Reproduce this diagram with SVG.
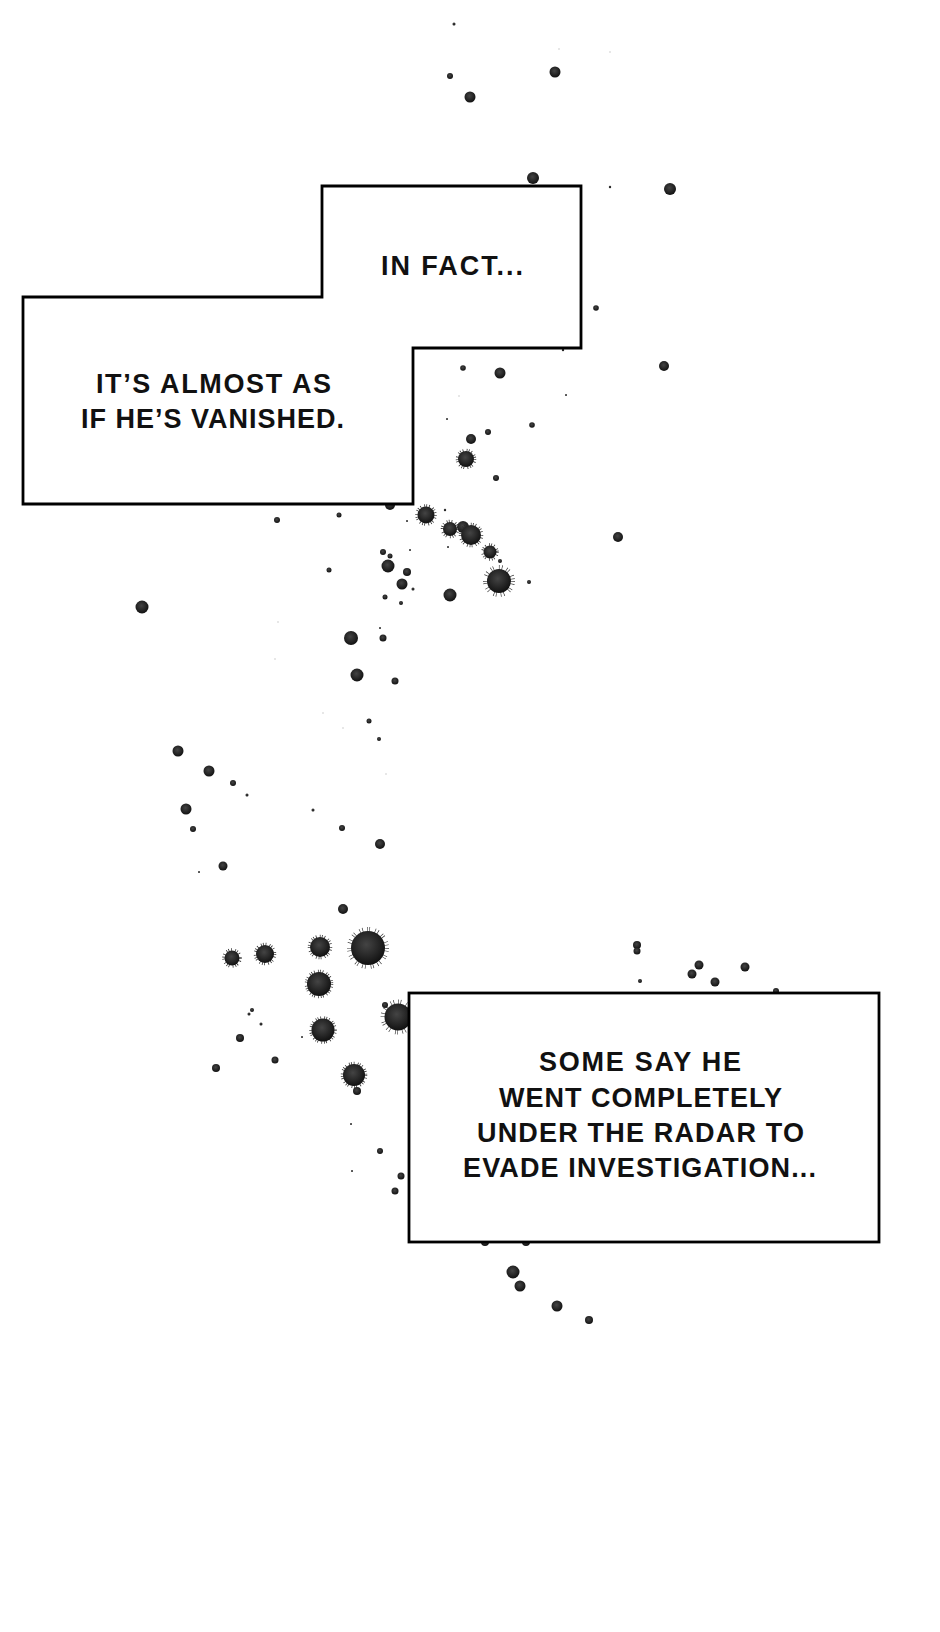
<svg xmlns="http://www.w3.org/2000/svg" width="940" height="1632" viewBox="0 0 940 1632">
<defs>
<radialGradient id="ink" cx="45%" cy="40%" r="60%">
<stop offset="0" stop-color="#444"/>
<stop offset="0.6" stop-color="#262626"/>
<stop offset="1" stop-color="#111"/>
</radialGradient>
</defs>
<style>
.d{fill:url(#ink)}
.f{fill:#c8c8c8}
.sp{fill:none;stroke:#2a2a2a;stroke-width:3.5;stroke-dasharray:0.7 1.9 0.7 3.2 0.7 1.3}
.spb{fill:none;stroke:#333;stroke-width:6;stroke-dasharray:0.6 2.2 0.6 4 0.6 1.6 0.6 5}
.box{fill:#fff;stroke:#000;stroke-width:2.8;stroke-linejoin:miter}
.t{font-family:"Liberation Sans",Arial,sans-serif;font-weight:bold;font-size:27px;fill:#111}
</style>
<rect width="940" height="1632" fill="#fff"/>
<g id="ink-splatter">
<circle class="f" cx="559" cy="49" r="0.8"/><circle class="f" cx="610" cy="52" r="0.8"/><circle class="f" cx="459" cy="396" r="0.8"/><circle class="f" cx="278" cy="622" r="0.8"/><circle class="f" cx="275" cy="659" r="0.8"/><circle class="f" cx="323" cy="713" r="0.8"/><circle class="f" cx="343" cy="728" r="0.8"/><circle class="f" cx="386" cy="774" r="0.8"/>
<circle class="d" cx="454" cy="24" r="1.5"/>
<circle class="d" cx="450" cy="76" r="3"/>
<circle class="d" cx="470" cy="97" r="5.5"/>
<circle class="d" cx="555" cy="72" r="5.5"/>
<circle class="d" cx="533" cy="178" r="6"/>
<circle class="d" cx="610" cy="187" r="1.2"/>
<circle class="d" cx="670" cy="189" r="6"/>
<circle class="d" cx="596" cy="308" r="2.8"/>
<circle class="d" cx="664" cy="366" r="5"/>
<circle class="d" cx="563" cy="350" r="1.2"/>
<circle class="d" cx="463" cy="368" r="2.8"/>
<circle class="d" cx="500" cy="373" r="5.5"/>
<circle class="d" cx="566" cy="395" r="1"/>
<circle class="d" cx="447" cy="419" r="1"/>
<circle class="d" cx="532" cy="425" r="2.8"/>
<circle class="d" cx="488" cy="432" r="3"/>
<circle class="d" cx="471" cy="439" r="5"/>
<circle class="sp" cx="466" cy="459" r="8.5"/><circle class="d" cx="466" cy="459" r="8"/>
<circle class="d" cx="496" cy="478" r="3"/>
<circle class="d" cx="390" cy="505" r="5"/>
<circle class="sp" cx="426" cy="515" r="9"/><circle class="d" cx="426" cy="515" r="8.5"/>
<circle class="d" cx="445" cy="510" r="1.2"/>
<circle class="d" cx="277" cy="520" r="3"/>
<circle class="d" cx="339" cy="515" r="2.5"/>
<circle class="sp" cx="450" cy="529" r="7.5"/><circle class="d" cx="450" cy="529" r="7"/>
<circle class="d" cx="463" cy="527" r="6"/>
<circle class="sp" cx="471" cy="535" r="10.5"/><circle class="d" cx="471" cy="535" r="10"/>
<circle class="d" cx="407" cy="521" r="1"/>
<circle class="d" cx="618" cy="537" r="5"/>
<circle class="sp" cx="490" cy="552" r="7"/><circle class="d" cx="490" cy="552" r="6.5"/>
<circle class="d" cx="383" cy="552" r="3"/>
<circle class="d" cx="390" cy="556" r="2.5"/>
<circle class="d" cx="388" cy="566" r="6.5"/>
<circle class="d" cx="407" cy="572" r="4"/>
<circle class="d" cx="410" cy="550" r="1"/>
<circle class="d" cx="448" cy="547" r="1"/>
<circle class="d" cx="500" cy="561" r="2"/>
<circle class="spb" cx="499" cy="581" r="13"/><circle class="d" cx="499" cy="581" r="12"/>
<circle class="d" cx="529" cy="582" r="2"/>
<circle class="d" cx="402" cy="584" r="5.5"/>
<circle class="d" cx="413" cy="589" r="1.5"/>
<circle class="d" cx="329" cy="570" r="2.5"/>
<circle class="d" cx="385" cy="597" r="2.5"/>
<circle class="d" cx="450" cy="595" r="6.5"/>
<circle class="d" cx="401" cy="603" r="2"/>
<circle class="d" cx="142" cy="607" r="6.5"/>
<circle class="d" cx="351" cy="638" r="7"/>
<circle class="d" cx="383" cy="638" r="3.5"/>
<circle class="d" cx="380" cy="628" r="1"/>
<circle class="d" cx="357" cy="675" r="6.5"/>
<circle class="d" cx="395" cy="681" r="3.5"/>
<circle class="d" cx="369" cy="721" r="2.5"/>
<circle class="d" cx="379" cy="739" r="2"/>
<circle class="d" cx="178" cy="751" r="5.5"/>
<circle class="d" cx="209" cy="771" r="5.5"/>
<circle class="d" cx="233" cy="783" r="3"/>
<circle class="d" cx="247" cy="795" r="1.5"/>
<circle class="d" cx="186" cy="809" r="5.5"/>
<circle class="d" cx="193" cy="829" r="3"/>
<circle class="d" cx="313" cy="810" r="1.5"/>
<circle class="d" cx="342" cy="828" r="3"/>
<circle class="d" cx="380" cy="844" r="5"/>
<circle class="d" cx="223" cy="866" r="4.5"/>
<circle class="d" cx="199" cy="872" r="1"/>
<circle class="d" cx="343" cy="909" r="5"/>
<circle class="sp" cx="232" cy="958" r="8"/><circle class="d" cx="232" cy="958" r="7.5"/>
<circle class="sp" cx="265" cy="954" r="9.5"/><circle class="d" cx="265" cy="954" r="9"/>
<circle class="sp" cx="320" cy="947" r="10.5"/><circle class="d" cx="320" cy="947" r="10"/>
<circle class="spb" cx="368" cy="948" r="18"/><circle class="d" cx="368" cy="948" r="17"/>
<circle class="sp" cx="319" cy="984" r="12.5"/><circle class="d" cx="319" cy="984" r="12"/>
<circle class="spb" cx="398" cy="1017" r="14.5"/><circle class="d" cx="398" cy="1017" r="13.5"/>
<circle class="d" cx="385" cy="1005" r="3"/>
<circle class="sp" cx="323" cy="1030" r="12"/><circle class="d" cx="323" cy="1030" r="11.5"/>
<circle class="d" cx="252" cy="1010" r="2"/>
<circle class="d" cx="249" cy="1014" r="1.5"/>
<circle class="d" cx="261" cy="1024" r="1.5"/>
<circle class="d" cx="240" cy="1038" r="4"/>
<circle class="d" cx="275" cy="1060" r="3.5"/>
<circle class="d" cx="216" cy="1068" r="4"/>
<circle class="sp" cx="354" cy="1075" r="11.5"/><circle class="d" cx="354" cy="1075" r="11"/>
<circle class="d" cx="357" cy="1091" r="4"/>
<circle class="d" cx="302" cy="1037" r="1"/>
<circle class="d" cx="351" cy="1124" r="1"/>
<circle class="d" cx="380" cy="1151" r="3"/>
<circle class="d" cx="352" cy="1171" r="1"/>
<circle class="d" cx="401" cy="1176" r="3.5"/>
<circle class="d" cx="395" cy="1191" r="3.5"/>
<circle class="d" cx="485" cy="1242" r="4"/>
<circle class="d" cx="526" cy="1242" r="4"/>
<circle class="d" cx="513" cy="1272" r="6.5"/>
<circle class="d" cx="520" cy="1286" r="5.5"/>
<circle class="d" cx="557" cy="1306" r="5.5"/>
<circle class="d" cx="589" cy="1320" r="4"/>
<circle class="d" cx="637" cy="945" r="4"/>
<circle class="d" cx="637" cy="951" r="3.5"/>
<circle class="d" cx="640" cy="981" r="2"/>
<circle class="d" cx="699" cy="965" r="4.5"/>
<circle class="d" cx="692" cy="974" r="4.5"/>
<circle class="d" cx="715" cy="982" r="4.5"/>
<circle class="d" cx="745" cy="967" r="4.5"/>
<circle class="d" cx="776" cy="991" r="3"/>
</g>
<g id="box-top">
<path class="box" d="M23,297 L322,297 L322,186 L581,186 L581,348 L413,348 L413,504 L23,504 Z"/>
<text class="t" x="381" y="275" textLength="142" lengthAdjust="spacing">IN FACT...</text>
<text class="t" x="96" y="393" textLength="235" lengthAdjust="spacing">IT’S ALMOST AS</text>
<text class="t" x="81" y="428" textLength="263" lengthAdjust="spacing">IF HE’S VANISHED.</text>
</g>
<g id="box-bottom">
<rect class="box" x="409" y="993" width="470" height="249"/>
<text class="t" x="539" y="1071" textLength="202" lengthAdjust="spacing">SOME SAY HE</text>
<text class="t" x="499" y="1107" textLength="283" lengthAdjust="spacing">WENT COMPLETELY</text>
<text class="t" x="477" y="1142" textLength="327" lengthAdjust="spacing">UNDER THE RADAR TO</text>
<text class="t" x="463" y="1177" textLength="353" lengthAdjust="spacing">EVADE INVESTIGATION...</text>
</g>
</svg>
